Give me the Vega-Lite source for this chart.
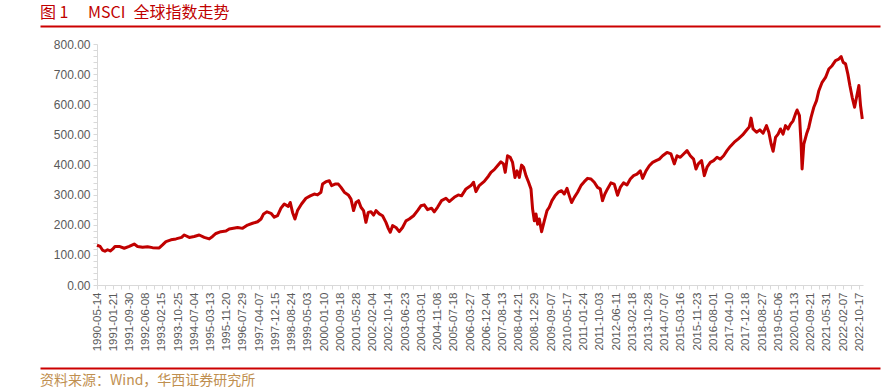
{
  "$schema": "https://vega.github.io/schema/vega-lite/v6.json",
  "background": "#ffffff",
  "padding": {"left": 40, "top": 5, "right": 0, "bottom": 0},
  "spacing": 12,
  "config": {
    "view": {"stroke": null},
    "axis": {"labelFont": "Liberation Sans", "grid": false}
  },
  "vconcat": [
    {
      "width": 783,
      "height": 1,
      "title": {"text": "图 1\u3000 MSCI\u2002全球指数走势", "anchor": "start", "frame": "group", "dx": -57, "offset": 4, "fontSize": 16, "font": "Noto Sans CJK SC", "fontWeight": "normal", "color": "#C00000"},
      "data": {"values": [{"v": 0}, {"v": 1}]},
      "mark": {"type": "rule", "strokeOpacity": 0},
      "encoding": {
        "x": {"field": "v", "type": "quantitative", "scale": {"domain": [0, 1], "range": [-57, 783]},
          "axis": {"orient": "bottom", "domainColor": "#CC0000", "domainWidth": 2, "ticks": false, "labels": false, "title": null, "grid": false}}
      }
    },
    {
      "spacing": 17,
      "vconcat": [
        {
          "width": 766,
          "height": 241,
          "data": {"values": [
            {"date": "1990-05-14", "value": 132},
            {"date": "1990-07-02", "value": 128},
            {"date": "1990-08-07", "value": 116},
            {"date": "1990-09-14", "value": 112},
            {"date": "1990-10-25", "value": 117},
            {"date": "1990-12-06", "value": 113},
            {"date": "1991-01-11", "value": 119},
            {"date": "1991-02-17", "value": 128},
            {"date": "1991-04-25", "value": 128},
            {"date": "1991-07-11", "value": 122},
            {"date": "1991-09-27", "value": 128},
            {"date": "1991-12-13", "value": 136},
            {"date": "1992-02-03", "value": 128},
            {"date": "1992-04-21", "value": 125},
            {"date": "1992-07-07", "value": 127},
            {"date": "1992-09-23", "value": 124},
            {"date": "1993-01-05", "value": 123},
            {"date": "1993-02-25", "value": 133},
            {"date": "1993-04-19", "value": 144},
            {"date": "1993-07-06", "value": 150},
            {"date": "1993-09-22", "value": 153},
            {"date": "1993-12-18", "value": 158},
            {"date": "1994-01-29", "value": 166},
            {"date": "1994-04-16", "value": 158},
            {"date": "1994-07-02", "value": 161},
            {"date": "1994-09-18", "value": 166},
            {"date": "1994-12-05", "value": 158},
            {"date": "1995-02-21", "value": 153},
            {"date": "1995-04-13", "value": 161},
            {"date": "1995-06-05", "value": 171},
            {"date": "1995-08-21", "value": 177},
            {"date": "1995-11-07", "value": 179},
            {"date": "1995-12-28", "value": 186},
            {"date": "1996-05-06", "value": 191},
            {"date": "1996-07-23", "value": 188},
            {"date": "1996-10-08", "value": 199},
            {"date": "1996-12-25", "value": 205},
            {"date": "1997-03-13", "value": 210},
            {"date": "1997-05-05", "value": 219},
            {"date": "1997-06-14", "value": 236},
            {"date": "1997-08-06", "value": 243},
            {"date": "1997-10-07", "value": 238},
            {"date": "1997-11-27", "value": 225},
            {"date": "1998-01-17", "value": 230},
            {"date": "1998-03-11", "value": 255},
            {"date": "1998-05-01", "value": 269},
            {"date": "1998-07-02", "value": 261},
            {"date": "1998-08-02", "value": 274},
            {"date": "1998-09-07", "value": 241},
            {"date": "1998-10-14", "value": 219},
            {"date": "1998-11-23", "value": 247},
            {"date": "1999-01-24", "value": 269},
            {"date": "1999-04-03", "value": 288},
            {"date": "1999-06-09", "value": 296},
            {"date": "1999-08-10", "value": 302},
            {"date": "1999-09-30", "value": 299},
            {"date": "1999-11-22", "value": 308},
            {"date": "1999-12-17", "value": 335},
            {"date": "2000-02-08", "value": 343},
            {"date": "2000-03-31", "value": 346},
            {"date": "2000-05-06", "value": 330},
            {"date": "2000-06-28", "value": 335},
            {"date": "2000-08-18", "value": 335},
            {"date": "2000-09-29", "value": 324},
            {"date": "2000-11-19", "value": 308},
            {"date": "2001-01-20", "value": 299},
            {"date": "2001-03-03", "value": 285},
            {"date": "2001-04-12", "value": 247},
            {"date": "2001-05-19", "value": 274},
            {"date": "2001-06-28", "value": 280},
            {"date": "2001-08-05", "value": 258},
            {"date": "2001-09-14", "value": 247},
            {"date": "2001-10-21", "value": 208},
            {"date": "2001-11-26", "value": 241},
            {"date": "2002-01-07", "value": 243},
            {"date": "2002-02-17", "value": 232},
            {"date": "2002-03-26", "value": 247},
            {"date": "2002-05-16", "value": 236},
            {"date": "2002-07-06", "value": 230},
            {"date": "2002-08-28", "value": 208},
            {"date": "2002-10-03", "value": 188},
            {"date": "2002-11-03", "value": 175},
            {"date": "2002-12-09", "value": 197},
            {"date": "2003-01-31", "value": 191},
            {"date": "2003-03-23", "value": 177},
            {"date": "2003-05-13", "value": 191},
            {"date": "2003-07-05", "value": 213},
            {"date": "2003-08-25", "value": 219},
            {"date": "2003-10-31", "value": 230},
            {"date": "2004-01-01", "value": 247},
            {"date": "2004-02-22", "value": 263},
            {"date": "2004-04-14", "value": 266},
            {"date": "2004-06-04", "value": 250},
            {"date": "2004-08-05", "value": 255},
            {"date": "2004-09-16", "value": 243},
            {"date": "2004-11-06", "value": 258},
            {"date": "2005-01-08", "value": 280},
            {"date": "2005-03-17", "value": 288},
            {"date": "2005-05-07", "value": 277},
            {"date": "2005-07-24", "value": 291},
            {"date": "2005-09-24", "value": 299},
            {"date": "2005-11-14", "value": 296},
            {"date": "2006-01-22", "value": 319},
            {"date": "2006-04-10", "value": 330},
            {"date": "2006-05-20", "value": 341},
            {"date": "2006-06-26", "value": 310},
            {"date": "2006-08-16", "value": 330},
            {"date": "2006-11-02", "value": 344},
            {"date": "2007-01-08", "value": 362},
            {"date": "2007-02-14", "value": 374},
            {"date": "2007-04-06", "value": 383},
            {"date": "2007-05-27", "value": 396},
            {"date": "2007-07-19", "value": 409},
            {"date": "2007-08-28", "value": 402},
            {"date": "2007-09-24", "value": 374},
            {"date": "2007-10-30", "value": 429},
            {"date": "2007-12-11", "value": 424},
            {"date": "2008-01-16", "value": 407},
            {"date": "2008-02-22", "value": 357},
            {"date": "2008-03-25", "value": 379},
            {"date": "2008-04-30", "value": 357},
            {"date": "2008-06-04", "value": 398},
            {"date": "2008-07-05", "value": 391},
            {"date": "2008-08-11", "value": 363},
            {"date": "2008-09-21", "value": 341},
            {"date": "2008-10-28", "value": 319},
            {"date": "2008-11-22", "value": 252},
            {"date": "2008-12-19", "value": 213},
            {"date": "2009-01-14", "value": 236},
            {"date": "2009-02-08", "value": 202},
            {"date": "2009-03-06", "value": 219},
            {"date": "2009-04-11", "value": 177},
            {"date": "2009-05-23", "value": 213},
            {"date": "2009-07-04", "value": 247},
            {"date": "2009-08-08", "value": 258},
            {"date": "2009-09-19", "value": 280},
            {"date": "2009-11-05", "value": 296},
            {"date": "2009-12-26", "value": 308},
            {"date": "2010-02-15", "value": 313},
            {"date": "2010-03-29", "value": 302},
            {"date": "2010-05-10", "value": 321},
            {"date": "2010-06-16", "value": 296},
            {"date": "2010-07-21", "value": 274},
            {"date": "2010-09-01", "value": 291},
            {"date": "2010-10-22", "value": 308},
            {"date": "2010-12-14", "value": 330},
            {"date": "2011-02-03", "value": 343},
            {"date": "2011-03-26", "value": 354},
            {"date": "2011-05-18", "value": 352},
            {"date": "2011-07-08", "value": 341},
            {"date": "2011-08-28", "value": 324},
            {"date": "2011-10-09", "value": 319},
            {"date": "2011-11-13", "value": 280},
            {"date": "2011-12-20", "value": 302},
            {"date": "2012-01-30", "value": 319},
            {"date": "2012-03-23", "value": 339},
            {"date": "2012-05-14", "value": 335},
            {"date": "2012-07-04", "value": 298},
            {"date": "2012-08-15", "value": 324},
            {"date": "2012-10-05", "value": 339},
            {"date": "2012-11-27", "value": 332},
            {"date": "2013-01-18", "value": 352},
            {"date": "2013-03-10", "value": 363},
            {"date": "2013-05-02", "value": 368},
            {"date": "2013-06-22", "value": 379},
            {"date": "2013-07-28", "value": 354},
            {"date": "2013-09-19", "value": 379},
            {"date": "2013-11-09", "value": 396},
            {"date": "2013-12-31", "value": 407},
            {"date": "2014-02-22", "value": 413},
            {"date": "2014-04-14", "value": 418},
            {"date": "2014-06-04", "value": 429},
            {"date": "2014-08-11", "value": 440},
            {"date": "2014-10-12", "value": 435},
            {"date": "2014-12-02", "value": 402},
            {"date": "2015-01-14", "value": 429},
            {"date": "2015-03-06", "value": 424},
            {"date": "2015-04-26", "value": 435},
            {"date": "2015-06-18", "value": 446},
            {"date": "2015-08-08", "value": 429},
            {"date": "2015-09-28", "value": 418},
            {"date": "2015-11-04", "value": 385},
            {"date": "2015-12-10", "value": 402},
            {"date": "2016-01-30", "value": 413},
            {"date": "2016-03-13", "value": 363},
            {"date": "2016-04-24", "value": 391},
            {"date": "2016-06-14", "value": 407},
            {"date": "2016-08-04", "value": 413},
            {"date": "2016-09-26", "value": 424},
            {"date": "2016-11-16", "value": 418},
            {"date": "2017-01-07", "value": 429},
            {"date": "2017-02-28", "value": 446},
            {"date": "2017-04-20", "value": 460},
            {"date": "2017-06-21", "value": 474},
            {"date": "2017-08-23", "value": 485},
            {"date": "2017-10-29", "value": 498},
            {"date": "2017-12-21", "value": 512},
            {"date": "2018-02-10", "value": 525},
            {"date": "2018-03-09", "value": 554},
            {"date": "2018-04-09", "value": 518},
            {"date": "2018-06-02", "value": 507},
            {"date": "2018-07-23", "value": 515},
            {"date": "2018-09-12", "value": 504},
            {"date": "2018-11-04", "value": 529},
            {"date": "2018-12-10", "value": 507},
            {"date": "2019-01-15", "value": 468},
            {"date": "2019-02-15", "value": 444},
            {"date": "2019-03-24", "value": 490},
            {"date": "2019-05-03", "value": 501},
            {"date": "2019-06-09", "value": 518},
            {"date": "2019-07-19", "value": 501},
            {"date": "2019-08-26", "value": 529},
            {"date": "2019-10-06", "value": 518},
            {"date": "2019-11-12", "value": 534},
            {"date": "2019-12-22", "value": 545},
            {"date": "2020-01-28", "value": 568},
            {"date": "2020-02-22", "value": 581},
            {"date": "2020-03-30", "value": 562},
            {"date": "2020-04-24", "value": 468},
            {"date": "2020-05-10", "value": 385},
            {"date": "2020-06-06", "value": 468},
            {"date": "2020-07-18", "value": 501},
            {"date": "2020-08-22", "value": 523},
            {"date": "2020-09-27", "value": 557},
            {"date": "2020-11-08", "value": 590},
            {"date": "2020-12-20", "value": 612},
            {"date": "2021-01-25", "value": 645},
            {"date": "2021-03-17", "value": 673},
            {"date": "2021-05-09", "value": 689},
            {"date": "2021-06-29", "value": 717},
            {"date": "2021-08-19", "value": 728},
            {"date": "2021-10-11", "value": 745},
            {"date": "2021-12-01", "value": 750},
            {"date": "2022-01-07", "value": 758},
            {"date": "2022-02-07", "value": 739},
            {"date": "2022-03-16", "value": 734},
            {"date": "2022-04-21", "value": 700},
            {"date": "2022-05-22", "value": 662},
            {"date": "2022-06-27", "value": 623},
            {"date": "2022-08-03", "value": 590},
            {"date": "2022-09-03", "value": 623},
            {"date": "2022-10-09", "value": 662},
            {"date": "2022-11-04", "value": 595},
            {"date": "2022-12-01", "value": 551}
          ]},
          "mark": {"type": "line", "color": "#C00000", "strokeWidth": 3, "strokeJoin": "round"},
          "encoding": {
            "x": {
              "field": "date", "type": "temporal",
              "scale": {"type": "utc", "nice": false, "domain": [{"year": 1990, "month": 5, "date": 14, "utc": true}, {"year": 2022, "month": 12, "date": 12, "utc": true}]},
              "axis": {
                "title": null,
                "values": [
                  {"year": 1990, "month": 5, "date": 14, "utc": true}, {"year": 1990, "month": 9, "date": 17, "utc": true},
                  {"year": 1991, "month": 1, "date": 21, "utc": true}, {"year": 1991, "month": 5, "date": 27, "utc": true},
                  {"year": 1991, "month": 9, "date": 30, "utc": true}, {"year": 1992, "month": 2, "date": 3, "utc": true},
                  {"year": 1992, "month": 6, "date": 8, "utc": true}, {"year": 1992, "month": 10, "date": 12, "utc": true},
                  {"year": 1993, "month": 2, "date": 15, "utc": true}, {"year": 1993, "month": 6, "date": 21, "utc": true},
                  {"year": 1993, "month": 10, "date": 25, "utc": true}, {"year": 1994, "month": 2, "date": 28, "utc": true},
                  {"year": 1994, "month": 7, "date": 4, "utc": true}, {"year": 1994, "month": 11, "date": 7, "utc": true},
                  {"year": 1995, "month": 3, "date": 13, "utc": true}, {"year": 1995, "month": 7, "date": 17, "utc": true},
                  {"year": 1995, "month": 11, "date": 20, "utc": true}, {"year": 1996, "month": 3, "date": 25, "utc": true},
                  {"year": 1996, "month": 7, "date": 29, "utc": true}, {"year": 1996, "month": 12, "date": 2, "utc": true},
                  {"year": 1997, "month": 4, "date": 7, "utc": true}, {"year": 1997, "month": 8, "date": 11, "utc": true},
                  {"year": 1997, "month": 12, "date": 15, "utc": true}, {"year": 1998, "month": 4, "date": 20, "utc": true},
                  {"year": 1998, "month": 8, "date": 24, "utc": true}, {"year": 1998, "month": 12, "date": 28, "utc": true},
                  {"year": 1999, "month": 5, "date": 3, "utc": true}, {"year": 1999, "month": 9, "date": 6, "utc": true},
                  {"year": 2000, "month": 1, "date": 10, "utc": true}, {"year": 2000, "month": 5, "date": 15, "utc": true},
                  {"year": 2000, "month": 9, "date": 18, "utc": true}, {"year": 2001, "month": 1, "date": 22, "utc": true},
                  {"year": 2001, "month": 5, "date": 28, "utc": true}, {"year": 2001, "month": 10, "date": 1, "utc": true},
                  {"year": 2002, "month": 2, "date": 4, "utc": true}, {"year": 2002, "month": 6, "date": 10, "utc": true},
                  {"year": 2002, "month": 10, "date": 14, "utc": true}, {"year": 2003, "month": 2, "date": 17, "utc": true},
                  {"year": 2003, "month": 6, "date": 23, "utc": true}, {"year": 2003, "month": 10, "date": 27, "utc": true},
                  {"year": 2004, "month": 3, "date": 1, "utc": true}, {"year": 2004, "month": 7, "date": 5, "utc": true},
                  {"year": 2004, "month": 11, "date": 8, "utc": true}, {"year": 2005, "month": 3, "date": 14, "utc": true},
                  {"year": 2005, "month": 7, "date": 18, "utc": true}, {"year": 2005, "month": 11, "date": 21, "utc": true},
                  {"year": 2006, "month": 3, "date": 27, "utc": true}, {"year": 2006, "month": 7, "date": 31, "utc": true},
                  {"year": 2006, "month": 12, "date": 4, "utc": true}, {"year": 2007, "month": 4, "date": 9, "utc": true},
                  {"year": 2007, "month": 8, "date": 13, "utc": true}, {"year": 2007, "month": 12, "date": 17, "utc": true},
                  {"year": 2008, "month": 4, "date": 21, "utc": true}, {"year": 2008, "month": 8, "date": 25, "utc": true},
                  {"year": 2008, "month": 12, "date": 29, "utc": true}, {"year": 2009, "month": 5, "date": 4, "utc": true},
                  {"year": 2009, "month": 9, "date": 7, "utc": true}, {"year": 2010, "month": 1, "date": 11, "utc": true},
                  {"year": 2010, "month": 5, "date": 17, "utc": true}, {"year": 2010, "month": 9, "date": 20, "utc": true},
                  {"year": 2011, "month": 1, "date": 24, "utc": true}, {"year": 2011, "month": 5, "date": 30, "utc": true},
                  {"year": 2011, "month": 10, "date": 3, "utc": true}, {"year": 2012, "month": 2, "date": 6, "utc": true},
                  {"year": 2012, "month": 6, "date": 11, "utc": true}, {"year": 2012, "month": 10, "date": 15, "utc": true},
                  {"year": 2013, "month": 2, "date": 18, "utc": true}, {"year": 2013, "month": 6, "date": 24, "utc": true},
                  {"year": 2013, "month": 10, "date": 28, "utc": true}, {"year": 2014, "month": 3, "date": 3, "utc": true},
                  {"year": 2014, "month": 7, "date": 7, "utc": true}, {"year": 2014, "month": 11, "date": 10, "utc": true},
                  {"year": 2015, "month": 3, "date": 16, "utc": true}, {"year": 2015, "month": 7, "date": 20, "utc": true},
                  {"year": 2015, "month": 11, "date": 23, "utc": true}, {"year": 2016, "month": 3, "date": 28, "utc": true},
                  {"year": 2016, "month": 8, "date": 1, "utc": true}, {"year": 2016, "month": 12, "date": 5, "utc": true},
                  {"year": 2017, "month": 4, "date": 10, "utc": true}, {"year": 2017, "month": 8, "date": 14, "utc": true},
                  {"year": 2017, "month": 12, "date": 18, "utc": true}, {"year": 2018, "month": 4, "date": 23, "utc": true},
                  {"year": 2018, "month": 8, "date": 27, "utc": true}, {"year": 2018, "month": 12, "date": 31, "utc": true},
                  {"year": 2019, "month": 5, "date": 6, "utc": true}, {"year": 2019, "month": 9, "date": 9, "utc": true},
                  {"year": 2020, "month": 1, "date": 13, "utc": true}, {"year": 2020, "month": 5, "date": 18, "utc": true},
                  {"year": 2020, "month": 9, "date": 21, "utc": true}, {"year": 2021, "month": 1, "date": 25, "utc": true},
                  {"year": 2021, "month": 5, "date": 31, "utc": true}, {"year": 2021, "month": 10, "date": 4, "utc": true},
                  {"year": 2022, "month": 2, "date": 7, "utc": true}, {"year": 2022, "month": 6, "date": 13, "utc": true},
                  {"year": 2022, "month": 10, "date": 17, "utc": true}
                ],
                "labelExpr": "((datum.value - utc(1990, 4, 14)) / 86400000) % 252 < 0.5 ? utcFormat(datum.value, '%Y-%m-%d') : ''",
                "labelAngle": -90,
                "labelFontSize": 11.5,
                "labelColor": "#595959",
                "labelPadding": 3,
                "tickSize": 4,
                "tickColor": "#D9D9D9",
                "domainColor": "#D9D9D9",
                "labelFlush": false,
                "labelOverlap": false,
                "labelBound": false,
                "grid": false
              }
            },
            "y": {
              "field": "value", "type": "quantitative",
              "scale": {"domain": [0, 800], "nice": false},
              "axis": {
                "title": null,
                "values": [0, 20, 40, 60, 80, 100, 120, 140, 160, 180, 200, 220, 240, 260, 280, 300, 320, 340, 360, 380, 400, 420, 440, 460, 480, 500, 520, 540, 560, 580, 600, 620, 640, 660, 680, 700, 720, 740, 760, 780, 800],
                "labelExpr": "datum.value % 100 === 0 ? format(datum.value, '.2f') : ''",
                "labelFontSize": 12,
                "labelColor": "#595959",
                "labelPadding": 3,
                "tickSize": 4,
                "tickColor": "#D9D9D9",
                "domainColor": "#D9D9D9",
                "minExtent": 57,
                "labelOverlap": false,
                "labelFlush": false,
                "grid": false
              }
            }
          }
        },
        {
          "width": 783,
          "height": 1,
          "title": {"text": "资料来源：Wind，华西证券研究所", "orient": "bottom", "anchor": "start", "frame": "group", "dx": -57, "offset": 5, "fontSize": 14, "font": "Noto Sans CJK SC", "fontWeight": "normal", "color": "#BF8F4F"},
          "data": {"values": [{"v": 0}, {"v": 1}]},
          "mark": {"type": "rule", "strokeOpacity": 0},
          "encoding": {
            "x": {"field": "v", "type": "quantitative", "scale": {"domain": [0, 1], "range": [-57, 783]},
              "axis": {"orient": "top", "domainColor": "#CC0000", "domainWidth": 2, "ticks": false, "labels": false, "title": null, "grid": false}}
          }
        }
      ]
    }
  ]
}
